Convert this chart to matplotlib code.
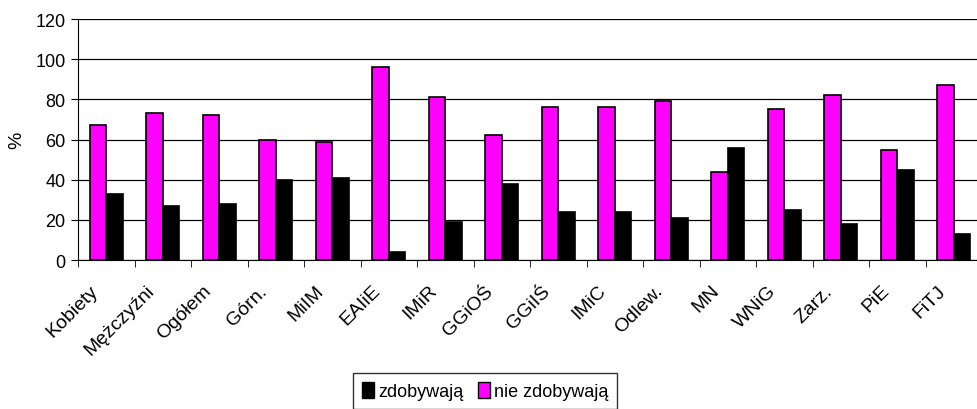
import matplotlib
matplotlib.use("Agg")
import matplotlib.pyplot as plt
import matplotlib.transforms as mtransforms
import numpy as np
from matplotlib.patches import Patch

categories = ["Kobiety", "Mężczyźni", "Ogółem", "Górn.", "MiIM", "EAIiE", "IMiR",
              "GGiOŚ", "GGiIŚ", "IMiC", "Odlew.", "MN", "WNiG", "Zarz.", "PiE", "FiTJ"]
zdobywaja = [33, 27, 28, 40, 41, 4, 19, 38, 24, 24, 21, 56, 25, 18, 45, 13]
nie_zdobywaja = [67, 73, 72, 60, 59, 96, 81, 62, 76, 76, 79, 44, 75, 82, 55, 87]
yticks = [0, 20, 40, 60, 80, 100, 120]

plt.rcParams['font.family'] = ['Liberation Sans', 'DejaVu Sans']

fig = plt.figure(figsize=(9.78, 4.10), dpi=100)
ax = fig.add_axes([78/978, 1 - 261/410, (982 - 78)/978, (261 - 20)/410])

x = np.arange(len(categories))
w = 0.29
ax.bar(x - w/2, nie_zdobywaja, width=w, color='#FF00FF', edgecolor='black', linewidth=1.2, zorder=3)
ax.bar(x + w/2, zdobywaja, width=w, color='black', edgecolor='black', linewidth=1.2, zorder=3)

ax.set_xlim(-0.5, len(categories) - 0.5)
ax.set_ylim(0, 120)
ax.set_yticks(yticks)
ax.set_yticklabels([str(v) for v in yticks], fontsize=13)
ax.yaxis.grid(True, color='black', linewidth=0.9, zorder=0)
ax.set_axisbelow(True)

ax.set_xticks(x)
ax.set_xticklabels(categories, rotation=45, ha='right', va='center',
                   rotation_mode='anchor', fontsize=14)
ax.set_xticks(np.arange(-0.5, len(categories)), minor=True)
ax.tick_params(axis='x', which='major', length=0, pad=20)
ax.tick_params(axis='x', which='minor', length=5, direction='out', color='black')
ax.tick_params(axis='y', length=5, direction='out', pad=4)
offset = mtransforms.ScaledTranslation(-11/100, 0, fig.dpi_scale_trans)
for lab in ax.get_xticklabels():
    lab.set_transform(lab.get_transform() + offset)

for s in ['top', 'right']:
    ax.spines[s].set_visible(False)
ax.spines['left'].set_color('black')
ax.spines['bottom'].set_color('black')

ax.set_ylabel('%', fontsize=14, labelpad=7)

handles = [Patch(facecolor='black', edgecolor='black'),
           Patch(facecolor='#FF00FF', edgecolor='black')]
leg = fig.legend(handles, ['zdobywają', 'nie zdobywają'], loc='center', ncol=2,
                 bbox_to_anchor=(485/978, 1 - 392/410), fontsize=13, frameon=True,
                 fancybox=False, edgecolor='black', handlelength=0.7, handleheight=1.0,
                 handletextpad=0.2, columnspacing=0.8, borderpad=0.5)
leg.get_frame().set_linewidth(1.0)

fig.savefig('out.png', dpi=100)
